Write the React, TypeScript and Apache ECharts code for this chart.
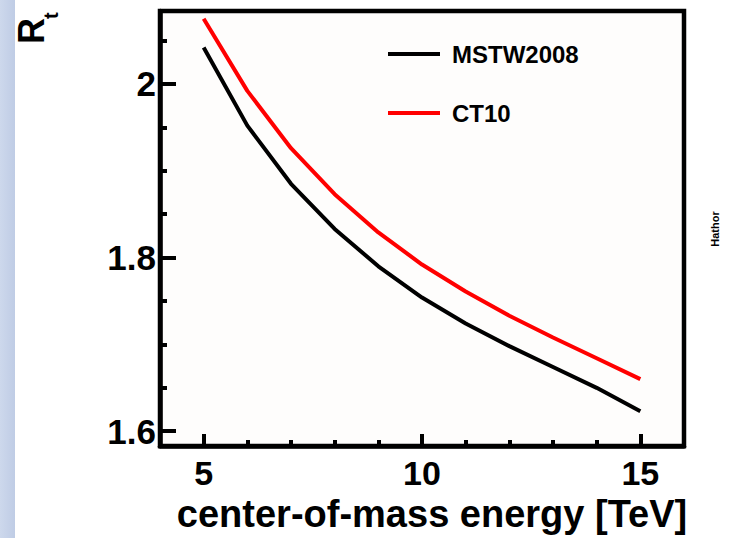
import React, { useEffect, useRef } from "react";
import * as echarts from "echarts";

const energies = [5, 6, 7, 8, 9, 10, 11, 12, 13, 14, 15];
const mstw2008 = [2.042, 1.952, 1.885, 1.833, 1.79, 1.754, 1.724, 1.698, 1.674, 1.65, 1.623];
const ct10 = [2.075, 1.992, 1.926, 1.873, 1.829, 1.792, 1.761, 1.733, 1.708, 1.684, 1.66];
const xMajorTicks = [5, 10, 15];
const xMinorTicks = [5, 6, 7, 8, 9, 10, 11, 12, 13, 14, 15];
const yMajorTicks = [1.6, 1.8, 2];
const yMinorTicks = [1.6, 1.65, 1.7, 1.75, 1.8, 1.85, 1.9, 1.95, 2, 2.05];

const FONT = "'Liberation Sans', Arial, Helvetica, sans-serif";

export default function App() {
  const ref = useRef<HTMLDivElement>(null);
  useEffect(() => {
    if (!ref.current) return;
    const chart = echarts.init(ref.current, null, { renderer: "svg" });
    const xMin = 4, xMax = 16, yMin = 1.583, yMax = 2.084;
    chart.setOption({
      animation: false,
      backgroundColor: "#ffffff",
      grid: {
        left: 160, right: 46, top: 11, bottom: 92,
        show: true, borderColor: "#000", borderWidth: 4.5, backgroundColor: "#fefdfc",
      },
      legend: {
        data: ["MSTW2008", "CT10"],
        orient: "vertical",
        left: 383, top: 35,
        itemWidth: 52, itemHeight: 4, icon: "rect", itemGap: 31,
        textStyle: { fontSize: 24, fontWeight: "bold", color: "#000", fontFamily: FONT, lineHeight: 28, padding: [0, 0, 0, 7] },
      },
      xAxis: [
        {
          type: "value", min: xMin, max: xMax, position: "bottom",
          name: "center-of-mass energy [TeV]", nameLocation: "middle", nameGap: 49,
          nameTextStyle: { fontSize: 38, fontWeight: "bold", color: "#000", fontFamily: FONT, padding: [0, 0, 0, 20] },
          axisLine: { show: true, lineStyle: { color: "#000", width: 4.5 } },
          axisTick: { show: true, inside: true, length: 12, lineStyle: { color: "#000", width: 4 }, customValues: xMajorTicks },
          axisLabel: { customValues: xMajorTicks, fontSize: 34, fontWeight: "bold", color: "#000", fontFamily: FONT, margin: 10 },
          splitLine: { show: false },
        },
        {
          type: "value", min: xMin, max: xMax, position: "bottom", gridIndex: 0,
          axisLine: { show: false },
          axisTick: { show: true, inside: true, length: 6, lineStyle: { color: "#000", width: 4 }, customValues: xMinorTicks },
          axisLabel: { show: false },
          splitLine: { show: false },
        },
      ],
      yAxis: [
        {
          type: "value", min: yMin, max: yMax, position: "left",
          axisLine: { show: true, lineStyle: { color: "#000", width: 4.5 } },
          axisTick: { show: true, inside: true, length: 16, lineStyle: { color: "#000", width: 4 }, customValues: yMajorTicks },
          axisLabel: { customValues: yMajorTicks, fontSize: 35, fontWeight: "bold", color: "#000", fontFamily: FONT, margin: 4, formatter: (v: number) => String(v) },
          splitLine: { show: false },
        },
        {
          type: "value", min: yMin, max: yMax, position: "left", gridIndex: 0,
          axisLine: { show: false },
          axisTick: { show: true, inside: true, length: 7, lineStyle: { color: "#000", width: 4 }, customValues: yMinorTicks },
          axisLabel: { show: false },
          splitLine: { show: false },
        },
      ],
      series: [
        {
          name: "MSTW2008", type: "line", xAxisIndex: 0, yAxisIndex: 0,
          color: "#000", showSymbol: false, symbol: "none",
          lineStyle: { color: "#000", width: 4 },
          data: energies.map((e, i) => [e, mstw2008[i]]),
        },
        {
          name: "CT10", type: "line", xAxisIndex: 0, yAxisIndex: 0,
          color: "#ff0000", showSymbol: false, symbol: "none",
          lineStyle: { color: "#ff0000", width: 4 },
          data: energies.map((e, i) => [e, ct10[i]]),
        },
      ],
      graphic: [
        {
          type: "rect", left: 0, top: 0, z: -10,
          shape: { x: 0, y: 0, width: 15, height: 538 },
          style: {
            fill: new echarts.graphic.LinearGradient(0, 0, 1, 0, [
              { offset: 0, color: "#cdd8ec" },
              { offset: 1, color: "#bfcce5" },
            ]),
          },
        },
        {
          type: "group", x: 44, y: 44, rotation: Math.PI / 2,
          children: [
            {
              type: "text", x: 0, y: -13,
              style: { text: "R", fontSize: 36, fontWeight: "bold", fill: "#000", fontFamily: FONT, align: "left", verticalAlign: "middle" },
            },
            {
              type: "text", x: 25, y: 7,
              style: { text: "t", fontSize: 20, fontWeight: "bold", fill: "#000", fontFamily: FONT, align: "left", verticalAlign: "middle" },
            },
          ],
        },
        {
          type: "text", x: 715, y: 229, rotation: Math.PI / 2,
          style: { text: "Hathor", fontSize: 11, fontWeight: "bold", fill: "#000", fontFamily: FONT, align: "center", verticalAlign: "middle" },
        },
      ],
    });
    return () => chart.dispose();
  }, []);
  return (
    <div style={{ position: "absolute", left: 0, top: 0, width: 730, height: 538, background: "#fff" }}>
      <div ref={ref} style={{ width: 730, height: 538 }} />
    </div>
  );
}
